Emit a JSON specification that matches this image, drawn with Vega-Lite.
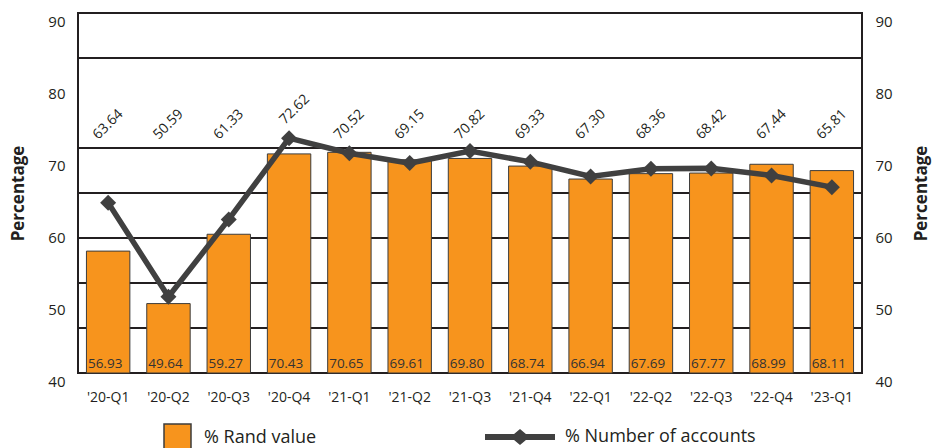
{
  "$schema": "https://vega.github.io/schema/vega-lite/v6.json",
  "width": 784,
  "height": 360,
  "autosize": {"type": "none"},
  "padding": {"left": 78, "top": 13, "right": 79, "bottom": 75},
  "background": "white",
  "config": {
    "font": "Open Sans",
    "view": {"stroke": "#231f20", "strokeWidth": 2},
    "axis": {"domain": false, "ticks": false, "grid": false, "labelColor": "#231f20", "titleColor": "#231f20"}
  },
  "datasets": {
    "quarters": [
      {"quarter": "'20-Q1", "rand": 56.93, "accounts": 63.64},
      {"quarter": "'20-Q2", "rand": 49.64, "accounts": 50.59},
      {"quarter": "'20-Q3", "rand": 59.27, "accounts": 61.33},
      {"quarter": "'20-Q4", "rand": 70.43, "accounts": 72.62},
      {"quarter": "'21-Q1", "rand": 70.65, "accounts": 70.52},
      {"quarter": "'21-Q2", "rand": 69.61, "accounts": 69.15},
      {"quarter": "'21-Q3", "rand": 69.80, "accounts": 70.82},
      {"quarter": "'21-Q4", "rand": 68.74, "accounts": 69.33},
      {"quarter": "'22-Q1", "rand": 66.94, "accounts": 67.30},
      {"quarter": "'22-Q2", "rand": 67.69, "accounts": 68.36},
      {"quarter": "'22-Q3", "rand": 67.77, "accounts": 68.42},
      {"quarter": "'22-Q4", "rand": 68.99, "accounts": 67.44},
      {"quarter": "'23-Q1", "rand": 68.11, "accounts": 65.81}
    ],
    "gridlines": [
      {"level": 46.25},
      {"level": 52.5},
      {"level": 58.75},
      {"level": 65},
      {"level": 71.25},
      {"level": 83.75}
    ]
  },
  "resolve": {"scale": {"y": "independent"}, "axis": {"y": "independent"}},
  "layer": [
    {
      "data": {"name": "gridlines"},
      "mark": {"type": "rule", "stroke": "#231f20", "strokeWidth": 2},
      "encoding": {
        "y": {"field": "level", "type": "quantitative", "scale": {"domain": [40, 90]}, "axis": null}
      }
    },
    {
      "data": {"name": "quarters"},
      "mark": {"type": "bar", "stroke": "#3c3c3c", "strokeWidth": 1},
      "encoding": {
        "x": {
          "field": "quarter", "type": "nominal", "sort": null,
          "scale": {"paddingInner": 0.28, "paddingOuter": 0.14},
          "axis": {"title": null, "labelAngle": 0, "labelFontSize": 14, "labelPadding": 17}
        },
        "y": {
          "field": "rand", "type": "quantitative",
          "scale": {"domain": [40, 90], "zero": false, "nice": false},
          "axis": {"orient": "left", "values": [40, 50, 60, 70, 80, 90], "title": "Percentage",
                   "titleFontSize": 17, "titleFontWeight": "bold", "titlePadding": 20,
                   "labelFontSize": 15, "labelPadding": 13, "labelOffset": 8}
        },
        "y2": {"datum": 40},
        "fill": {
          "datum": "% Rand value", "type": "nominal",
          "scale": {"range": ["#F7941D"]},
          "legend": {"orient": "none", "legendX": 85, "legendY": 410, "title": null,
                     "symbolType": "square", "symbolSize": 729, "labelLimit": 300,
                     "labelFontSize": 18, "labelColor": "#231f20", "labelOffset": 12,
                     "encode": {"symbols": {"update": {"fill": {"value": "#F7941D"}, "stroke": {"value": "#3c3c3c"}, "strokeWidth": {"value": 1}, "opacity": {"value": 1}}}}}
        }
      }
    },
    {
      "data": {"name": "quarters"},
      "mark": {"type": "text", "baseline": "alphabetic", "dy": -5, "dx": -3, "fontSize": 13.5, "color": "#333333"},
      "encoding": {
        "x": {"field": "quarter", "type": "nominal", "sort": null},
        "y": {"datum": 40, "type": "quantitative", "scale": {"domain": [40, 90], "zero": false, "nice": false}, "axis": null},
        "text": {"field": "rand", "type": "quantitative", "format": ".2f"}
      }
    },
    {
      "data": {"name": "quarters"},
      "mark": {"type": "line", "strokeWidth": 5.5,
               "point": {"shape": "diamond", "size": 256, "filled": true, "fill": "#404040", "strokeWidth": 0}},
      "encoding": {
        "x": {"field": "quarter", "type": "nominal", "sort": null},
        "y": {
          "field": "accounts", "type": "quantitative",
          "scale": {"domain": [40, 90], "zero": false, "nice": false},
          "axis": {"orient": "right", "values": [40, 50, 60, 70, 80, 90], "title": "Percentage",
                   "titleFontSize": 17, "titleFontWeight": "bold", "titlePadding": 38, "titleAngle": 270,
                   "labelFontSize": 15, "labelPadding": 13, "labelOffset": 8}
        },
        "stroke": {
          "datum": "% Number of accounts", "type": "nominal",
          "scale": {"range": ["#404040"]},
          "legend": {"orient": "none", "legendX": 407, "legendY": 389, "title": null,
                     "symbolType": "M-1,-0.085H-0.17L0,-0.23L0.17,-0.085H1V0.085H0.17L0,0.23L-0.17,0.085H-1Z",
                     "symbolSize": 4900, "labelFontSize": 18, "labelColor": "#231f20", "labelOffset": 10, "labelLimit": 300,
                     "encode": {"symbols": {"update": {"fill": {"value": "#404040"}, "stroke": {"value": "transparent"}, "strokeWidth": {"value": 0}}}}}
        }
      }
    },
    {
      "data": {"name": "quarters"},
      "transform": [{"filter": "datum.accounts < 72"}],
      "mark": {"type": "text", "angle": 315, "align": "center", "baseline": "middle", "fontSize": 14, "color": "#231f20"},
      "encoding": {
        "x": {"field": "quarter", "type": "nominal", "sort": null},
        "y": {"datum": 74.5, "type": "quantitative", "scale": {"domain": [40, 90], "zero": false, "nice": false}, "axis": null},
        "text": {"field": "accounts", "type": "quantitative", "format": ".2f"}
      }
    },
    {
      "data": {"name": "quarters"},
      "transform": [{"filter": "datum.accounts >= 72"}],
      "mark": {"type": "text", "angle": 315, "align": "center", "baseline": "middle", "fontSize": 14, "color": "#231f20", "dx": 8},
      "encoding": {
        "x": {"field": "quarter", "type": "nominal", "sort": null},
        "y": {"datum": 75.8, "type": "quantitative", "scale": {"domain": [40, 90], "zero": false, "nice": false}, "axis": null},
        "text": {"field": "accounts", "type": "quantitative", "format": ".2f"}
      }
    }
  ]
}
